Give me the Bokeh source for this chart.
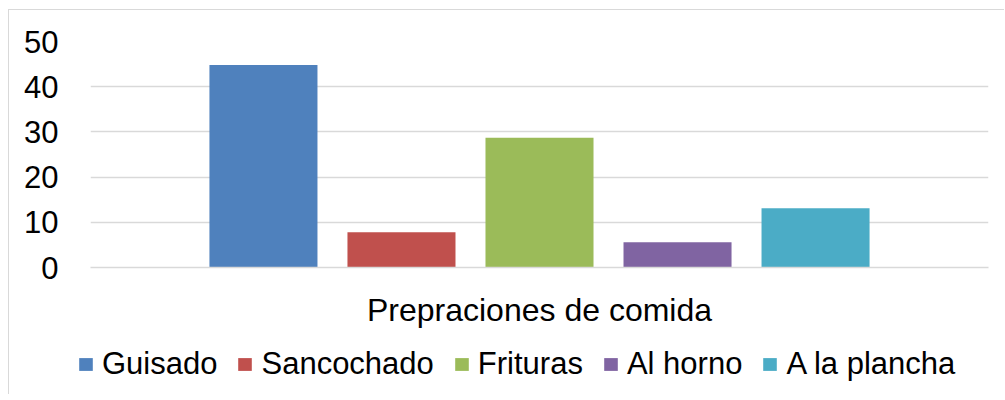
from bokeh.plotting import figure
from bokeh.models import FactorRange, Range1d, Legend, LegendItem, ColumnDataSource, FixedTicker
from bokeh.transform import dodge
from bokeh.embed import file_html
from bokeh.resources import INLINE

category = ["Prepraciones de comida"]
series = ["Guisado", "Sancochado", "Frituras", "Al horno", "A la plancha"]
values = [44.8, 7.8, 28.7, 5.6, 13.1]
colors = ["#4F81BD", "#C0504D", "#9BBB59", "#8064A2", "#4BACC6"]
y_ticks = [0, 10, 20, 30, 40, 50]

FONT = "Liberation Sans"
FS = "31px"

p = figure(width=996, height=325, x_range=FactorRange(factors=category),
           y_range=Range1d(0, 50), output_backend="svg", toolbar_location=None,
           min_border_left=81, min_border_right=17, min_border_top=31,
           min_border_bottom=68)
p.styles = {"border-left": "1px solid #d9d9d9", "border-top": "1px solid #d9d9d9",
            "margin-left": "8px", "margin-top": "9px"}
p.outline_line_color = None
p.xgrid.grid_line_color = None
p.ygrid.grid_line_color = "#d9d9d9"
p.ygrid.grid_line_width = 1.3
p.yaxis.ticker = FixedTicker(ticks=y_ticks)
p.yaxis.axis_line_color = None
p.yaxis.major_tick_line_color = None
p.yaxis.minor_tick_line_color = None
p.yaxis.major_label_text_font = FONT
p.yaxis.major_label_text_font_size = FS
p.yaxis.major_label_text_color = "#000000"
p.yaxis.major_label_standoff = 26
p.xaxis.axis_line_color = "#d9d9d9"
p.xaxis.axis_line_width = 1.3
p.xaxis.major_tick_line_color = None
p.xaxis.minor_tick_line_color = None
p.xaxis.major_label_text_font = FONT
p.xaxis.major_label_text_font_size = "32px"
p.xaxis.major_label_text_color = "#000000"
p.xaxis.major_label_standoff = 18

step = 0.1537
width = 0.1203
for i, (name, val, col) in enumerate(zip(series, values, colors)):
    src = ColumnDataSource(dict(cat=category, v=[val]))
    p.vbar(x=dodge("cat", (i - 2) * step, range=p.x_range), top="v", bottom=0,
           width=width, source=src, fill_color=col, line_color=None)

# legend strip (its proxy bars have no height and lie outside its range)
lg = figure(width=996, height=60, x_range=FactorRange(factors=series),
            y_range=Range1d(1000, 1001), output_backend="svg", toolbar_location=None,
            min_border_left=0, min_border_right=0, min_border_top=0,
            min_border_bottom=0)
lg.styles = {"border-left": "1px solid #d9d9d9", "margin-left": "8px"}
lg.axis.visible = False
lg.grid.visible = False
lg.outline_line_color = None
items = []
for name, val, col in zip(series, values, colors):
    src = ColumnDataSource(dict(s=[name], v=[val]))
    r = lg.vbar(x="s", top="v", bottom="v", width=0.5, source=src,
                fill_color=col, line_color=None)
    items.append(LegendItem(label=name, renderers=[r]))

legend = Legend(items=items, orientation="horizontal", location=(68, 12),
                glyph_width=17, glyph_height=16, label_standoff=8, spacing=19,
                padding=0, margin=0, border_line_color=None,
                background_fill_alpha=0,
                label_text_font=FONT, label_text_font_size=FS,
                label_text_color="#000000")
lg.add_layout(legend, "center")

open("out.html", "w").write(file_html([p, lg], INLINE))
